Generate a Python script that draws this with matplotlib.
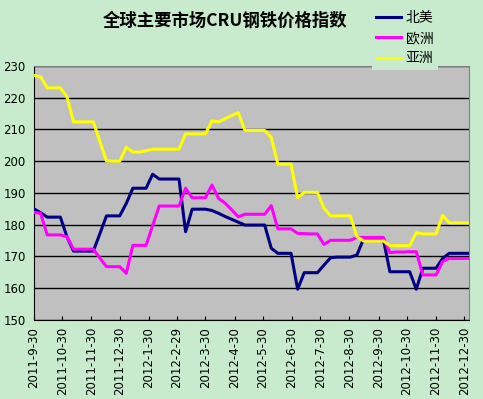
import pandas as pd
import matplotlib
matplotlib.use('Agg')
import matplotlib.pyplot as plt

plt.rcParams['font.family'] = ['Noto Sans CJK SC', 'DejaVu Sans']

# weekly CRU index, starting 2011-9-30
start_date = '2011-09-30'
n_weeks = 67

north_america = [185.0, 183.8, 182.4, 182.4, 182.4, 176.2, 171.7, 171.7, 171.7, 171.7,
                 177.2, 182.8, 182.8, 182.8, 186.7, 191.5, 191.5, 191.5, 195.9, 194.4,
                 194.4, 194.4, 194.4, 177.8, 184.9, 184.9, 184.9, 184.5, 183.6, 182.6,
                 181.7, 180.8, 179.9, 179.9, 179.9, 179.9, 172.6, 171.0, 171.0, 171.0,
                 159.7, 164.9, 164.9, 164.9, 167.3, 169.6, 169.8, 169.8, 169.8, 170.5,
                 175.5, 175.5, 175.5, 175.5, 165.2, 165.2, 165.2, 165.2, 159.7, 166.3,
                 166.3, 166.3, 169.4, 171.0, 171.0, 171.0, 171.0]

europe = [183.9, 183.6, 176.8, 176.8, 176.8, 176.2, 172.3, 172.3, 172.3, 172.3,
          169.5, 166.8, 166.8, 166.8, 164.7, 173.5, 173.5, 173.5, 179.7, 185.9,
          185.9, 185.9, 185.9, 191.5, 188.5, 188.5, 188.5, 192.5, 188.3, 186.8,
          184.7, 182.5, 183.3, 183.3, 183.3, 183.3, 186.0, 178.7, 178.7, 178.7,
          177.3, 177.2, 177.1, 177.1, 173.8, 175.1, 175.1, 175.1, 175.1, 176.0,
          176.0, 176.0, 176.0, 176.0, 171.2, 171.4, 171.4, 171.5, 171.5, 164.2,
          164.2, 164.2, 168.4, 169.4, 169.4, 169.4, 169.4]

asia = [227.0, 226.6, 223.1, 223.1, 223.1, 220.3, 212.4, 212.4, 212.4, 212.4,
        206.2, 200.1, 200.0, 200.0, 204.4, 202.9, 202.9, 203.3, 203.8, 203.8,
        203.8, 203.8, 203.8, 208.6, 208.6, 208.6, 208.6, 212.7, 212.4, 213.4,
        214.4, 215.3, 209.7, 209.7, 209.7, 209.7, 207.5, 199.1, 199.1, 199.1,
        188.5, 190.2, 190.2, 190.2, 185.2, 182.8, 182.8, 182.8, 182.8, 176.2,
        174.9, 174.9, 174.9, 174.9, 173.4, 173.4, 173.4, 173.4, 177.5, 177.1,
        177.1, 177.1, 183.0, 180.6, 180.6, 180.6, 180.6]

tick_labels = ['2011-9-30', '2011-10-30', '2011-11-30', '2011-12-30', '2012-1-30',
               '2012-2-29', '2012-3-30', '2012-4-30', '2012-5-30', '2012-6-30',
               '2012-7-30', '2012-8-30', '2012-9-30', '2012-10-30', '2012-11-30',
               '2012-12-30']

dates = pd.date_range(start_date, periods=n_weeks, freq='7D')
tick_dates = pd.to_datetime(tick_labels)

bg = '#C7EBCC'
fig = plt.figure(figsize=(4.83, 3.99), dpi=100, facecolor=bg)
ax = fig.add_axes([0.0704, 0.198, 0.9006, 0.6366])
ax.set_facecolor('#C0C0C0')

ax.plot(dates, north_america, color='#000080', lw=2.2, label='北美', zorder=3)
ax.plot(dates, europe, color='#FF00FF', lw=2.2, label='欧洲', zorder=3)
ax.plot(dates, asia, color='#FFFF00', lw=2.2, label='亚洲', zorder=3)

ax.set_ylim(150, 230)
ax.set_yticks(range(150, 231, 10))
ax.set_xlim(dates[0], dates[-1])
ax.set_xticks(tick_dates)
ax.set_xticklabels(tick_labels, rotation=90, fontsize=8.5, family='DejaVu Sans')
ax.tick_params(axis='y', length=0, labelsize=8.5, pad=6)
ax.tick_params(axis='x', direction='in', length=3, pad=5)
for lbl in ax.get_yticklabels():
    lbl.set_family('DejaVu Sans')
ax.grid(axis='y', color='black', lw=1)
ax.set_axisbelow(True)

ax.spines['left'].set_color('black')
ax.spines['bottom'].set_color('black')
ax.spines['top'].set_color('#808080')
ax.spines['right'].set_color('#808080')

fig.text(0.465, 0.948, '全球主要市场CRU钢铁价格指数', ha='center', va='center',
         fontsize=12.5, fontweight='bold')

leg = fig.legend(loc='upper left', bbox_to_anchor=(0.765, 0.99), frameon=True,
                 fancybox=False, fontsize=10, handlelength=1.75, labelspacing=0.45,
                 borderpad=0.3, handletextpad=0.35, borderaxespad=0.2)
leg.get_frame().set_facecolor(bg)
leg.get_frame().set_edgecolor('none')
leg.get_frame().set_alpha(1)

fig.savefig('out.png', dpi=100, facecolor=bg)
